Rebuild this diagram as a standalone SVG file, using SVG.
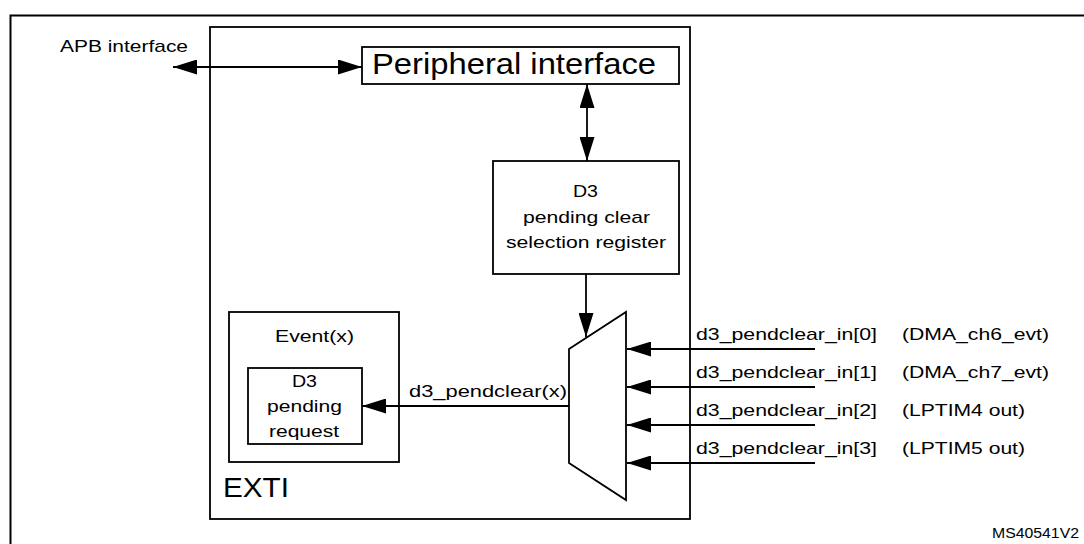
<svg xmlns="http://www.w3.org/2000/svg" width="1084" height="544" viewBox="0 0 1084 544">
<style>
  .box { fill: #ffffff; stroke: #000000; stroke-width: 1.8; }
  .frame { fill: none; stroke: #000000; stroke-width: 2; }
  .wire { fill: none; stroke: #000000; stroke-width: 1.8; }
  .t { font-family: "Liberation Sans", Arial, sans-serif; font-size: 17px; fill: #000000; }
  .big { font-family: "Liberation Sans", Arial, sans-serif; font-size: 30px; fill: #000000; }
  .exti { font-family: "Liberation Sans", Arial, sans-serif; font-size: 28px; fill: #000000; }
  .ref { font-family: "Liberation Sans", Arial, sans-serif; font-size: 14px; fill: #000000; }
</style>
<defs>
  <marker id="ah" viewBox="0 0 24 15" refX="24" refY="7.5" markerWidth="24" markerHeight="15" markerUnits="userSpaceOnUse" orient="auto-start-reverse">
    <path d="M0,0 L24,7.5 L0,15 z" fill="#000000"/>
  </marker>
</defs>
<rect x="0" y="0" width="1084" height="544" fill="#ffffff"/>
<rect class="frame" x="10.5" y="15.5" width="1100" height="600"/>

<g id="exti">
  <rect class="box" x="210" y="27" width="480" height="492"/>
  <text class="exti" x="223" y="497" textLength="66" lengthAdjust="spacingAndGlyphs">EXTI</text>
</g>

<g id="peripheral-interface">
  <rect class="box" x="362" y="47" width="317" height="37"/>
  <text class="big" x="372" y="74" textLength="284" lengthAdjust="spacingAndGlyphs">Peripheral interface</text>
</g>

<g id="selection-register">
  <rect class="box" x="493" y="161" width="186" height="113"/>
  <text class="t" x="573" y="197" textLength="25" lengthAdjust="spacingAndGlyphs">D3</text>
  <text class="t" x="523" y="223" textLength="127" lengthAdjust="spacingAndGlyphs">pending clear</text>
  <text class="t" x="506" y="248" textLength="160" lengthAdjust="spacingAndGlyphs">selection register</text>
</g>

<g id="event">
  <rect class="box" x="229" y="312" width="170" height="150"/>
  <text class="t" x="275" y="342" textLength="79" lengthAdjust="spacingAndGlyphs">Event(x)</text>
</g>

<g id="pending-request">
  <rect class="box" x="248" y="368" width="114" height="76"/>
  <text class="t" x="292" y="387" textLength="25" lengthAdjust="spacingAndGlyphs">D3</text>
  <text class="t" x="267" y="412" textLength="75" lengthAdjust="spacingAndGlyphs">pending</text>
  <text class="t" x="269" y="437" textLength="70" lengthAdjust="spacingAndGlyphs">request</text>
</g>

<g id="mux">
  <polygon class="box" points="569,349 626,312 626,500 569,463"/>
</g>

<g id="connectors">
  <line class="wire" x1="173" y1="67" x2="362" y2="67" marker-start="url(#ah)" marker-end="url(#ah)"/>
  <text class="t" x="60" y="52" textLength="128" lengthAdjust="spacingAndGlyphs">APB interface</text>

  <line class="wire" x1="587" y1="84" x2="587" y2="161" marker-start="url(#ah)" marker-end="url(#ah)"/>
  <line class="wire" x1="586" y1="274" x2="586" y2="337" marker-end="url(#ah)"/>

  <line class="wire" x1="569" y1="406" x2="362" y2="406" marker-end="url(#ah)"/>
  <text class="t" x="409" y="397" textLength="158" lengthAdjust="spacingAndGlyphs">d3_pendclear(x)</text>

  <line class="wire" x1="815" y1="349" x2="627" y2="349" marker-end="url(#ah)"/>
  <line class="wire" x1="815" y1="387" x2="627" y2="387" marker-end="url(#ah)"/>
  <line class="wire" x1="815" y1="425" x2="627" y2="425" marker-end="url(#ah)"/>
  <line class="wire" x1="815" y1="463" x2="627" y2="463" marker-end="url(#ah)"/>

  <text class="t" x="696" y="340" textLength="181" lengthAdjust="spacingAndGlyphs">d3_pendclear_in[0]</text>
  <text class="t" x="696" y="378" textLength="181" lengthAdjust="spacingAndGlyphs">d3_pendclear_in[1]</text>
  <text class="t" x="696" y="416" textLength="181" lengthAdjust="spacingAndGlyphs">d3_pendclear_in[2]</text>
  <text class="t" x="696" y="454" textLength="181" lengthAdjust="spacingAndGlyphs">d3_pendclear_in[3]</text>

  <text class="t" x="902" y="340" textLength="147" lengthAdjust="spacingAndGlyphs">(DMA_ch6_evt)</text>
  <text class="t" x="902" y="378" textLength="147" lengthAdjust="spacingAndGlyphs">(DMA_ch7_evt)</text>
  <text class="t" x="902" y="416" textLength="123" lengthAdjust="spacingAndGlyphs">(LPTIM4 out)</text>
  <text class="t" x="902" y="454" textLength="123" lengthAdjust="spacingAndGlyphs">(LPTIM5 out)</text>
</g>

<text class="ref" x="992" y="538" textLength="87" lengthAdjust="spacingAndGlyphs">MS40541V2</text>
</svg>
